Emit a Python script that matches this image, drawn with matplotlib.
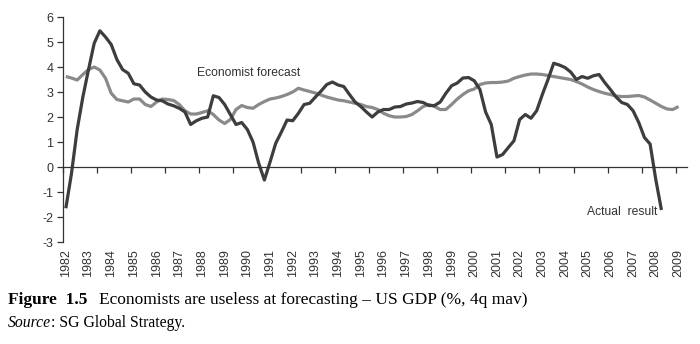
"""
Economists are useless at forecasting - US GDP (%, 4q mav), 1982-2009
"""
import numpy as np
import matplotlib
matplotlib.use('Agg')
import matplotlib.pyplot as plt
from matplotlib.ticker import FixedLocator, NullFormatter

# ======================================================================================================================
# Data (quarterly, starting 1982 Q1)
YEARS = list(range(1982, 2010))
ACTUAL = [-1.65, -0.25, 1.5, 2.8, 3.9, 4.95, 5.45, 5.2, 4.9, 4.3,
          3.9, 3.75, 3.33, 3.28, 3.0, 2.8, 2.68, 2.65, 2.52, 2.45,
          2.35, 2.2, 1.7, 1.85, 1.95, 2.0, 2.85, 2.78, 2.5, 2.1,
          1.7, 1.78, 1.5, 1.0, 0.15, -0.52, 0.2, 0.95, 1.4, 1.88,
          1.85, 2.15, 2.5, 2.55, 2.8, 3.04, 3.3, 3.4, 3.28, 3.22,
          2.9, 2.6, 2.42, 2.2, 2.0, 2.2, 2.3, 2.3, 2.4, 2.42,
          2.52, 2.56, 2.62, 2.58, 2.46, 2.46, 2.6, 2.95, 3.25, 3.36,
          3.56, 3.58, 3.45, 3.1, 2.2, 1.7, 0.4, 0.5, 0.78, 1.05,
          1.9, 2.1, 1.95, 2.25, 2.9, 3.5, 4.15, 4.08, 3.98, 3.8,
          3.5, 3.62, 3.55, 3.65, 3.7, 3.38, 3.1, 2.8, 2.58, 2.5,
          2.25, 1.78, 1.18, 0.92, -0.5, -1.72]
FORECAST = [3.62, 3.56, 3.48, 3.7, 3.9, 4.0, 3.88, 3.55, 2.95, 2.7,
            2.65, 2.6, 2.72, 2.72, 2.5, 2.42, 2.6, 2.72, 2.7, 2.66,
            2.5, 2.25, 2.12, 2.12, 2.18, 2.25, 2.1, 1.88, 1.74, 1.9,
            2.3, 2.46, 2.38, 2.35, 2.5, 2.62, 2.72, 2.76, 2.82, 2.9,
            3.0, 3.15, 3.08, 3.02, 2.96, 2.88, 2.8, 2.74, 2.68, 2.65,
            2.6, 2.55, 2.5, 2.42, 2.38, 2.3, 2.15, 2.05, 2.0, 2.0,
            2.02, 2.1, 2.25, 2.42, 2.5, 2.42, 2.3, 2.3, 2.5, 2.72,
            2.9, 3.05, 3.12, 3.3, 3.36, 3.38, 3.38, 3.4, 3.44, 3.55,
            3.62, 3.68, 3.72, 3.72, 3.7, 3.66, 3.62, 3.58, 3.54, 3.5,
            3.42, 3.32, 3.2, 3.1, 3.02, 2.95, 2.9, 2.84, 2.82, 2.82,
            2.84, 2.86, 2.8, 2.68, 2.55, 2.42, 2.32, 2.3, 2.42]
N_CATEGORIES = 110

SANS = 'Liberation Sans'
SERIF = 'Liberation Serif'
TEXT_COLOR = '#333333'

plt.rcParams['axes.unicode_minus'] = False

# ======================================================================================================================
fig = plt.figure(figsize=(7, 3.44), dpi=100)
ax = fig.add_axes([0.09, 0.2965, 0.8914, 0.654])

ax.plot(np.arange(len(FORECAST)), FORECAST, color='#8a8a8a', lw=2.3, solid_capstyle='butt')
ax.plot(np.arange(len(ACTUAL)), ACTUAL, color='#3d3d3d', lw=2.3, solid_capstyle='butt')

ax.set_xlim(-0.5, N_CATEGORIES - 0.5)
ax.set_ylim(-3, 6)

# y axis
ax.set_yticks(range(-3, 7))
ax.tick_params(axis='y', direction='out', length=4, width=0.9, color='#333333',
               labelsize=9, labelcolor=TEXT_COLOR, pad=3)
for lab in ax.get_yticklabels():
    lab.set_fontfamily(SANS)

# x axis line sits on zero, tick marks every 6 quarters
ax.spines['top'].set_visible(False)
ax.spines['right'].set_visible(False)
ax.spines['left'].set_linewidth(0.9)
ax.spines['left'].set_color('#333333')
ax.spines['bottom'].set_position(('data', 0))
ax.spines['bottom'].set_linewidth(0.9)
ax.spines['bottom'].set_color('#333333')
ax.xaxis.set_major_locator(FixedLocator(np.arange(-0.5, N_CATEGORIES - 1, 6)))
ax.xaxis.set_major_formatter(NullFormatter())
ax.tick_params(axis='x', direction='out', length=4, width=0.9, color='#333333')

# year labels at the bottom of the plot
sec = ax.secondary_xaxis(0)
sec.set_xticks([4 * i for i in range(len(YEARS))], [str(y) for y in YEARS])
sec.tick_params(length=0, pad=5, labelsize=9, labelcolor=TEXT_COLOR, rotation=90)
sec.spines['bottom'].set_visible(False)
for lab in sec.get_xticklabels():
    lab.set_fontfamily(SANS)

ax.text(32.3, 3.76, 'Economist forecast', fontsize=8.7, family=SANS, color=TEXT_COLOR,
        ha='center', va='center')
ax.text(98, -1.8, 'Actual  result', fontsize=8.7, family=SANS, color=TEXT_COLOR,
        ha='center', va='center')

# caption
capY = 1 - 300 / 344
t1 = fig.text(8 / 700, capY, 'Figure  1.5', fontsize=12.5, family=SERIF, weight='bold', va='center')
fig.canvas.draw()
bb = t1.get_window_extent()
fig.text(bb.x1 / 700 + 12 / 700, capY,
         'Economists are useless at forecasting \u2013 US GDP (%, 4q mav)',
         fontsize=12.5, family=SERIF, va='center')
srcY = 1 - 323 / 344
t2 = fig.text(8 / 700, srcY, 'Source', fontsize=11.3, family=SERIF, style='italic', va='center')
fig.canvas.draw()
bb = t2.get_window_extent()
fig.text(bb.x1 / 700, srcY, ': SG Global Strategy.', fontsize=11.3, family=SERIF, va='center')

fig.savefig('out.png', dpi=100)
